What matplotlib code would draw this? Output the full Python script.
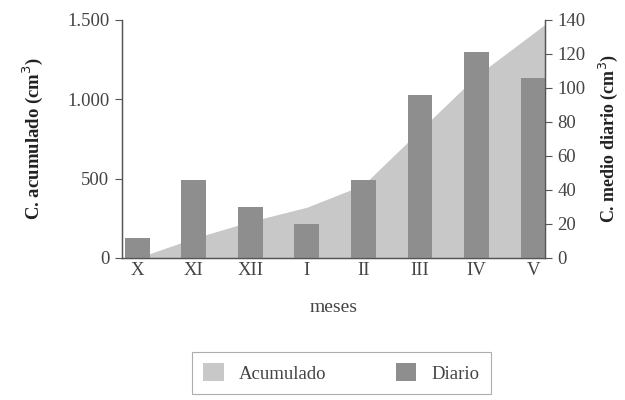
import matplotlib
matplotlib.use("Agg")
import matplotlib.pyplot as plt
import numpy as np
from matplotlib.patches import Patch
from matplotlib.ticker import FuncFormatter

months = ["X", "XI", "XII", "I", "II", "III", "IV", "V"]
daily = [12, 46, 30, 20, 46, 96, 121, 106]            # cm3 per day (right axis)
accumulated = [0, 124, 230, 320, 461, 805, 1148, 1416]  # cm3 (left axis)

plt.rcParams["font.family"] = ["Liberation Serif", "DejaVu Serif"]

bar_color = "#8e8e8e"
area_color = "#c8c8c8"
spine_color = "#555555"
text_color = "#444444"

fig = plt.figure(figsize=(6.25, 4.0), dpi=100)
ax = fig.add_axes([0.195, 0.355, 0.677, 0.595])
ax2 = ax.twinx()

x = np.arange(len(months))
xmin, xmax = -0.27, 7.21

# carry the last segment of the accumulated curve on to the right spine
acc = np.asarray(accumulated, dtype=float)
slope = acc[-1] - acc[-2]
xa = np.append(x, xmax)
ya = np.append(acc, acc[-1] + slope * (xmax - x[-1]))

ax.fill_between(xa, 0, ya, color=area_color, linewidth=0, zorder=1)
ax.set_ylim(0, 1500)
ax.set_yticks([0, 500, 1000, 1500])
ax.yaxis.set_major_formatter(FuncFormatter(lambda v, p: f"{int(v):,}".replace(",", ".")))
ax.set_xlim(xmin, xmax)
ax.set_xticks(x)
ax.set_xticklabels(months)
ax.tick_params(axis="x", length=0, pad=3, labelsize=13.5, colors=text_color)
ax.tick_params(axis="y", length=5, width=0.8, colors=spine_color, labelcolor=text_color,
               labelsize=13.5, pad=4)
ax.set_ylabel("C. acumulado (cm$^3$)", fontsize=13.5, fontweight="bold", color="#222222",
              labelpad=16)
ax.set_xlabel("meses", fontsize=14, color=text_color, labelpad=14)

ax2.bar(x, daily, width=0.44, color=bar_color, zorder=2)
ax2.set_ylim(0, 140)
ax2.set_yticks(range(0, 141, 20))
ax2.tick_params(axis="y", length=5, width=0.8, colors=spine_color, labelcolor=text_color,
                labelsize=13.5, pad=4)
ax2.set_ylabel("C. medio diario (cm$^3$)", fontsize=13, fontweight="bold", color="#222222",
               rotation=90, labelpad=8)

for a in (ax, ax2):
    a.spines["top"].set_visible(False)
    for s in ("left", "right", "bottom"):
        a.spines[s].set_color(spine_color)
        a.spines[s].set_linewidth(0.9)

handles = [Patch(facecolor=area_color, label="Acumulado"),
           Patch(facecolor=bar_color, label="Diario")]
leg = fig.legend(handles=handles, loc="center", bbox_to_anchor=(0.546, 0.0675),
                 ncol=2, frameon=True, fancybox=False, edgecolor="#999999",
                 fontsize=13.5, columnspacing=3.7, handlelength=1.1, handleheight=1.1,
                 borderpad=0.6, handletextpad=0.8, labelcolor=text_color)
leg.get_frame().set_linewidth(0.8)

fig.savefig("out.png", dpi=100, facecolor="white")
